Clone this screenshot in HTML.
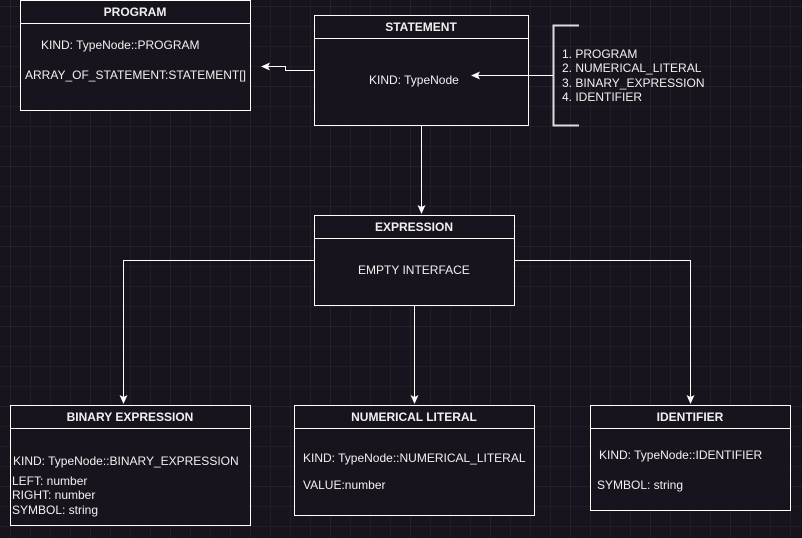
<!DOCTYPE html>
<html><head><meta charset="utf-8"><style>
html,body{margin:0;padding:0;background:#18141d;}
svg{display:block;}
text{font-family:"Liberation Sans",sans-serif;fill:#f0f0f0;font-size:12px;}
.h{font-weight:bold;text-anchor:middle;}
</style></head><body>
<svg width="802" height="538" viewBox="0 0 802 538" xmlns="http://www.w3.org/2000/svg">
<defs>
<pattern id="g" x="10" y="6" width="20" height="20" patternUnits="userSpaceOnUse">
<path d="M0 0H20M0 0V20" stroke="#2a2630" stroke-width="1" fill="none"/>
</pattern>
<pattern id="G" x="10" y="6" width="80" height="80" patternUnits="userSpaceOnUse">
<path d="M0 0H80M0 0V80" stroke="#322e38" stroke-width="1" fill="none"/>
</pattern>
<marker id="a" markerWidth="10" markerHeight="10" refX="8" refY="5" orient="auto" markerUnits="userSpaceOnUse">
<path d="M0 1L9 5L0 9L2 5Z" fill="#fff"/>
</marker>
</defs>
<rect width="802" height="538" fill="url(#g)"/>
<rect width="802" height="538" fill="url(#G)"/>
<g fill="#18141d" stroke="#fff" stroke-width="1">
<rect x="20.5" y="0.5" width="230" height="110"/><line x1="20" y1="23.5" x2="251" y2="23.5"/>
<rect x="314.5" y="15.5" width="214" height="110"/><line x1="314" y1="38.5" x2="529" y2="38.5"/>
<rect x="314.5" y="215.5" width="200" height="90"/><line x1="314" y1="238.5" x2="515" y2="238.5"/>
<rect x="10.5" y="405.5" width="240" height="120"/><line x1="10" y1="428.5" x2="251" y2="428.5"/>
<rect x="294.5" y="405.5" width="240" height="110"/><line x1="294" y1="428.5" x2="535" y2="428.5"/>
<rect x="590.5" y="405.5" width="200" height="105"/><line x1="590" y1="428.5" x2="791" y2="428.5"/>
</g>
<g fill="none" stroke="#fff" stroke-width="1">
<path d="M314 70.5H285.5V66.5H262" marker-end="url(#a)"/>
<path d="M421.5 126V213" marker-end="url(#a)"/>
<path d="M579 25.5H553.5V125.5H579" stroke="#ddd" stroke-width="2"/>
<path d="M553 75.5H472" marker-end="url(#a)"/>
<path d="M314 260.5H123.5V403" marker-end="url(#a)"/>
<path d="M514 260.5H690.5V403" marker-end="url(#a)"/>
<path d="M414.5 306V403" marker-end="url(#a)"/>
</g>
<text class="h" x="135" y="16">PROGRAM</text>
<text x="41" y="49">KIND: TypeNode::PROGRAM</text>
<text x="25" y="79">ARRAY_OF_STATEMENT:STATEMENT[]</text>
<text class="h" x="421" y="31">STATEMENT</text>
<text x="369" y="84">KIND: TypeNode</text>
<text x="562" y="58">1. PROGRAM</text>
<text x="562" y="72">2. NUMERICAL_LITERAL</text>
<text x="562" y="87">3. BINARY_EXPRESSION</text>
<text x="562" y="101">4. IDENTIFIER</text>
<text class="h" x="414" y="231">EXPRESSION</text>
<text x="358" y="274">EMPTY INTERFACE</text>
<text class="h" x="130" y="421">BINARY EXPRESSION</text>
<text x="13" y="465">KIND: TypeNode::BINARY_EXPRESSION</text>
<text x="12" y="485">LEFT: number</text>
<text x="12" y="499">RIGHT: number</text>
<text x="12" y="514">SYMBOL: string</text>
<text class="h" x="414" y="421">NUMERICAL LITERAL</text>
<text x="303" y="462">KIND: TypeNode::NUMERICAL_LITERAL</text>
<text x="303" y="489">VALUE:number</text>
<text class="h" x="690" y="421">IDENTIFIER</text>
<text x="599" y="459">KIND: TypeNode::IDENTIFIER</text>
<text x="597" y="489">SYMBOL: string</text>
</svg>
</body></html>
